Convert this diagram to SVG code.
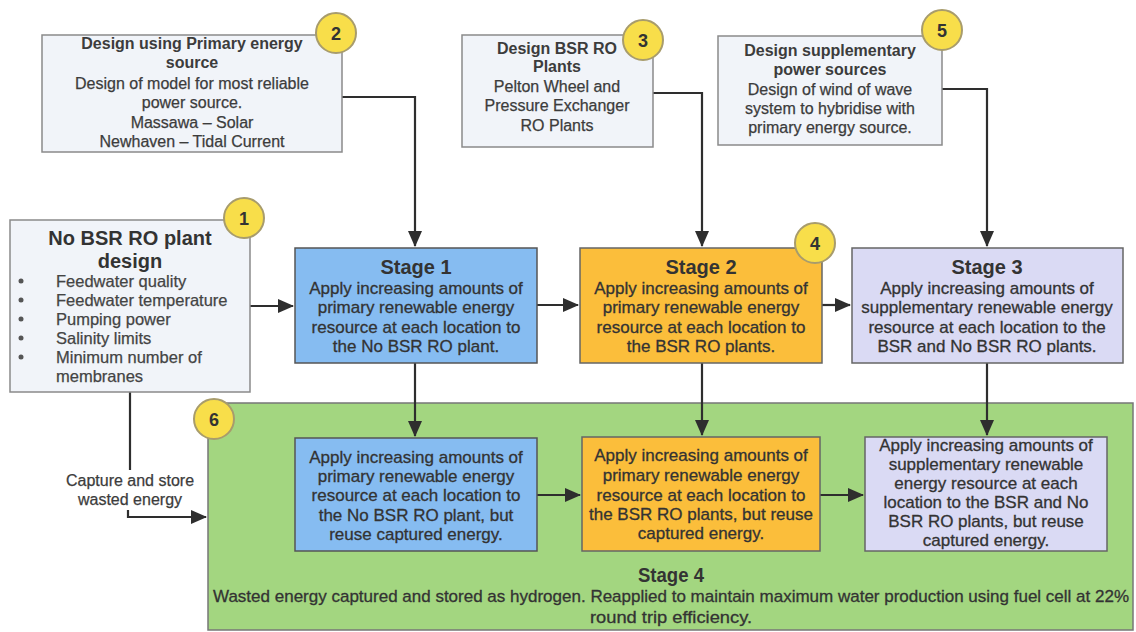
<svg xmlns="http://www.w3.org/2000/svg" width="1136" height="632" viewBox="0 0 1136 632">
<defs>
<marker id="ah" markerUnits="userSpaceOnUse" markerWidth="16" markerHeight="14" refX="15" refY="7" orient="auto">
<path d="M0,0 L16,7 L0,14 Z" fill="#2e2e2e"/>
</marker>
<style>
.box{fill:#f1f4f9;stroke:#8a8a8a;stroke-width:1.5}
.s1{fill:#86bcf1;stroke:#555;stroke-width:1.5}
.s2{fill:#fbbe3b;stroke:#666;stroke-width:1.5}
.s3{fill:#dadaf4;stroke:#666;stroke-width:1.5}
.s4{fill:#a3d680;stroke:#777;stroke-width:1.5}
.badge{fill:#f8de4a;stroke:#a89c6c;stroke-width:2}
.num{font-family:"Liberation Sans",Arial,sans-serif;font-weight:bold;font-size:18px;fill:#333;text-anchor:middle}
.t{font-family:"Liberation Sans",Arial,sans-serif;font-size:16px;fill:#3c3c3c;text-anchor:middle;stroke:#3c3c3c;stroke-width:0.25}
.tb{font-family:"Liberation Sans",Arial,sans-serif;font-size:16px;font-weight:bold;fill:#3c3c3c;text-anchor:middle}
.st{font-family:"Liberation Sans",Arial,sans-serif;font-size:17px;fill:#333;text-anchor:middle;stroke:#333;stroke-width:0.3}
.h{font-family:"Liberation Sans",Arial,sans-serif;font-size:20px;font-weight:bold;fill:#333;text-anchor:middle}
.bl{font-family:"Liberation Sans",Arial,sans-serif;font-size:16.5px;fill:#444;stroke:#444;stroke-width:0.25}
.c{fill:none;stroke:#2e2e2e;stroke-width:2.2}
</style>
</defs>
<rect width="1136" height="632" fill="#ffffff"/>

<g id="stage4">
<rect class="s4" x="208" y="403" width="925" height="227"/>
<text class="h" x="671" y="582" font-size="19" textLength="66" lengthAdjust="spacingAndGlyphs">Stage 4</text>
<text class="st" x="671" y="602" textLength="916" lengthAdjust="spacingAndGlyphs">Wasted energy captured and stored as hydrogen. Reapplied to maintain maximum water production using fuel cell at 22%</text>
<text class="st" x="671" y="623" textLength="162" lengthAdjust="spacingAndGlyphs">round trip efficiency.</text>
</g>

<g id="connectors">
<path class="c" d="M342,97 H415 V246" marker-end="url(#ah)"/>
<path class="c" d="M653,93 H702 V246" marker-end="url(#ah)"/>
<path class="c" d="M942,89 H987 V246" marker-end="url(#ah)"/>
<path class="c" d="M250,306 H293" marker-end="url(#ah)"/>
<path class="c" d="M537,305 H578" marker-end="url(#ah)"/>
<path class="c" d="M822,305 H850" marker-end="url(#ah)"/>
<path class="c" d="M415,363 V436" marker-end="url(#ah)"/>
<path class="c" d="M702,363 V435" marker-end="url(#ah)"/>
<path class="c" d="M987,363 V435" marker-end="url(#ah)"/>
<path class="c" d="M537,495 H580" marker-end="url(#ah)"/>
<path class="c" d="M820,495 H863" marker-end="url(#ah)"/>
<path class="c" d="M130,392 V470"/>
<path class="c" d="M128,510 V517 H206" marker-end="url(#ah)"/>
<text class="t" x="130" y="486" font-size="15">Capture and store</text>
<text class="t" x="130" y="505" font-size="15">wasted energy</text>
</g>

<g id="node2">
<rect class="box" x="42" y="35" width="300" height="117"/>
<text class="tb" x="192" y="49">Design using Primary energy</text>
<text class="tb" x="192" y="68">source</text>
<text class="t" x="192" y="89">Design of model for most reliable</text>
<text class="t" x="192" y="108">power source.</text>
<text class="t" x="192" y="128">Massawa – Solar</text>
<text class="t" x="192" y="147">Newhaven – Tidal Current</text>
<circle class="badge" cx="336" cy="33" r="20"/>
<text class="num" x="336" y="40">2</text>
</g>

<g id="node3">
<rect class="box" x="462" y="35" width="191" height="112"/>
<text class="tb" x="557" y="54">Design BSR RO</text>
<text class="tb" x="557" y="72">Plants</text>
<text class="t" x="557" y="92">Pelton Wheel and</text>
<text class="t" x="557" y="111">Pressure Exchanger</text>
<text class="t" x="557" y="131">RO Plants</text>
<circle class="badge" cx="643" cy="40" r="20"/>
<text class="num" x="643" y="47">3</text>
</g>

<g id="node5">
<rect class="box" x="718" y="36" width="224" height="109"/>
<text class="tb" x="830" y="56">Design supplementary</text>
<text class="tb" x="830" y="75">power sources</text>
<text class="t" x="830" y="95">Design of wind of wave</text>
<text class="t" x="830" y="114">system to hybridise with</text>
<text class="t" x="830" y="133">primary energy source.</text>
<circle class="badge" cx="942" cy="30" r="20"/>
<text class="num" x="942" y="37">5</text>
</g>

<g id="node1">
<rect class="box" x="10" y="220" width="240" height="172"/>
<text class="h" x="130" y="245" font-size="21">No BSR RO plant</text>
<text class="h" x="130" y="268" font-size="21">design</text>
<g fill="#555">
<circle cx="21" cy="281" r="2.5"/><circle cx="21" cy="300" r="2.5"/><circle cx="21" cy="319" r="2.5"/>
<circle cx="21" cy="338" r="2.5"/><circle cx="21" cy="357" r="2.5"/>
</g>
<text class="bl" x="56" y="287">Feedwater quality</text>
<text class="bl" x="56" y="306">Feedwater temperature</text>
<text class="bl" x="56" y="325">Pumping power</text>
<text class="bl" x="56" y="344">Salinity limits</text>
<text class="bl" x="56" y="363">Minimum number of</text>
<text class="bl" x="56" y="382">membranes</text>
<circle class="badge" cx="244" cy="218" r="20"/>
<text class="num" x="244" y="225">1</text>
</g>

<g id="stage1">
<rect class="s1" x="295" y="248" width="242" height="115"/>
<text class="h" x="416" y="274">Stage 1</text>
<text class="st" x="416" y="294">Apply increasing amounts of</text>
<text class="st" x="416" y="313">primary renewable energy</text>
<text class="st" x="416" y="333">resource at each location to</text>
<text class="st" x="416" y="352">the No BSR RO plant.</text>
</g>

<g id="stage2">
<rect class="s2" x="580" y="248" width="242" height="115"/>
<text class="h" x="701" y="274">Stage 2</text>
<text class="st" x="701" y="294">Apply increasing amounts of</text>
<text class="st" x="701" y="313">primary renewable energy</text>
<text class="st" x="701" y="333">resource at each location to</text>
<text class="st" x="701" y="352">the BSR RO plants.</text>
<circle class="badge" cx="815" cy="243" r="20"/>
<text class="num" x="815" y="250">4</text>
</g>

<g id="stage3">
<rect class="s3" x="852" y="248" width="271" height="115"/>
<text class="h" x="987" y="274">Stage 3</text>
<text class="st" x="987" y="294">Apply increasing amounts of</text>
<text class="st" x="987" y="313">supplementary renewable energy</text>
<text class="st" x="987" y="333">resource at each location to the</text>
<text class="st" x="987" y="352">BSR and No BSR RO plants.</text>
</g>

<g id="reuse1">
<rect class="s1" x="295" y="438" width="242" height="113"/>
<text class="st" x="416" y="463">Apply increasing amounts of</text>
<text class="st" x="416" y="482">primary renewable energy</text>
<text class="st" x="416" y="501">resource at each location to</text>
<text class="st" x="416" y="521">the No BSR RO plant, but</text>
<text class="st" x="416" y="540">reuse captured energy.</text>
</g>

<g id="reuse2">
<rect class="s2" x="582" y="437" width="238" height="114"/>
<text class="st" x="701" y="461">Apply increasing amounts of</text>
<text class="st" x="701" y="481">primary renewable energy</text>
<text class="st" x="701" y="501">resource at each location to</text>
<text class="st" x="701" y="520">the BSR RO plants, but reuse</text>
<text class="st" x="701" y="539">captured energy.</text>
</g>

<g id="reuse3">
<rect class="s3" x="865" y="437" width="242" height="114"/>
<text class="st" x="986" y="451">Apply increasing amounts of</text>
<text class="st" x="986" y="470">supplementary renewable</text>
<text class="st" x="986" y="489">energy resource at each</text>
<text class="st" x="986" y="508">location to the BSR and No</text>
<text class="st" x="986" y="527">BSR RO plants, but reuse</text>
<text class="st" x="986" y="546">captured energy.</text>
</g>

<g id="node6">
<circle class="badge" cx="214" cy="419" r="20"/>
<text class="num" x="214" y="426">6</text>
</g>
</svg>
